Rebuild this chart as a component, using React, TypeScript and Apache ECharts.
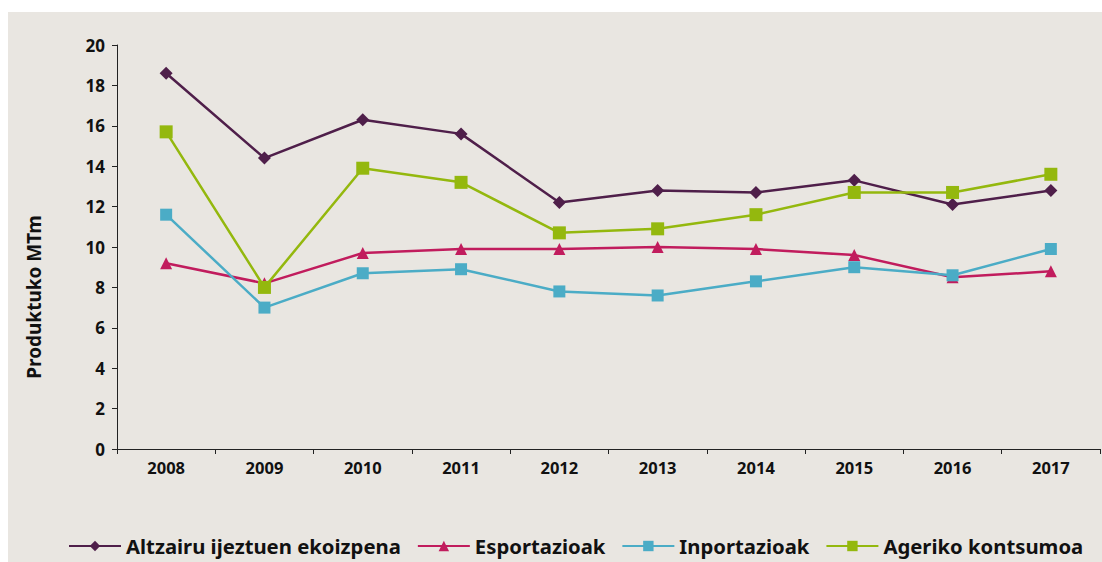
import React, { useEffect, useRef } from "react";
import * as echarts from "echarts";

const years = ["2008", "2009", "2010", "2011", "2012", "2013", "2014", "2015", "2016", "2017"];
const altzairu = [18.6, 14.4, 16.3, 15.6, 12.2, 12.8, 12.7, 13.3, 12.1, 12.8];
const esportazioak = [9.2, 8.2, 9.7, 9.9, 9.9, 10.0, 9.9, 9.6, 8.5, 8.8];
const inportazioak = [11.6, 7.0, 8.7, 8.9, 7.8, 7.6, 8.3, 9.0, 8.6, 9.9];
const ageriko = [15.7, 8.0, 13.9, 13.2, 10.7, 10.9, 11.6, 12.7, 12.7, 13.6];

const FONT = "'Noto Sans', 'Open Sans', sans-serif";

export default function App() {
  const ref = useRef<HTMLDivElement>(null);
  useEffect(() => {
    if (!ref.current) return;
    const chart = echarts.init(ref.current, null, { renderer: "svg" });
    const mk = (name: string, data: number[], color: string, symbol: string, size: number) => ({
      name,
      type: "line",
      data,
      symbol,
      symbolSize: size,
      itemStyle: { color },
      lineStyle: { color, width: 2.5 },
      z: 3,
    });
    chart.setOption({
      animation: false,
      backgroundColor: "transparent",
      graphic: [
        {
          type: "rect",
          shape: { x: 8, y: 12, width: 1094, height: 550 },
          style: { fill: "#e9e6e1" },
          z: -10,
          silent: true,
        },
        {
          type: "text",
          x: 34,
          y: 297,
          rotation: Math.PI / 2,
          style: {
            text: "Produktuko MTm",
            fill: "#111",
            font: `bold 19px ${FONT}`,
            align: "center",
            verticalAlign: "middle",
          },
        },
      ],
      grid: { left: 117, right: 2, top: 45, bottom: 113 },
      xAxis: {
        type: "category",
        data: years,
        boundaryGap: true,
        axisLine: { lineStyle: { color: "#222", width: 1 } },
        axisTick: { show: true, length: 5, lineStyle: { color: "#222" }, interval: 0 },
        axisLabel: { color: "#111", fontWeight: "bold", fontSize: 16.5, fontFamily: FONT, margin: 10 },
      },
      yAxis: {
        type: "value",
        min: 0,
        max: 20,
        interval: 2,
        axisLine: { show: true, lineStyle: { color: "#222", width: 1 } },
        axisTick: { show: true, length: 5, lineStyle: { color: "#222" } },
        splitLine: { show: false },
        axisLabel: { color: "#111", fontWeight: "bold", fontSize: 17, fontFamily: FONT, margin: 12 },
      },
      legend: {
        bottom: 6,
        left: 68,
        width: 1034,
        padding: 0,
        itemWidth: 52,
        itemHeight: 13,
        itemGap: 16,
        textStyle: { color: "#111", fontWeight: "bold", fontSize: 20.3, fontFamily: FONT },
        data: ["Altzairu ijeztuen ekoizpena", "Esportazioak", "Inportazioak", "Ageriko kontsumoa"],
      },
      series: [
        mk("Altzairu ijeztuen ekoizpena", altzairu, "#4f1f4a", "diamond", 13),
        mk("Esportazioak", esportazioak, "#c11c5d", "triangle", 12),
        mk("Inportazioak", inportazioak, "#4bacc6", "rect", 12),
        mk("Ageriko kontsumoa", ageriko, "#94b80e", "rect", 13),
      ],
    });
    return () => chart.dispose();
  }, []);
  return <div ref={ref} style={{ width: 1102, height: 562, position: "absolute", left: 0, top: 0 }} />;
}
